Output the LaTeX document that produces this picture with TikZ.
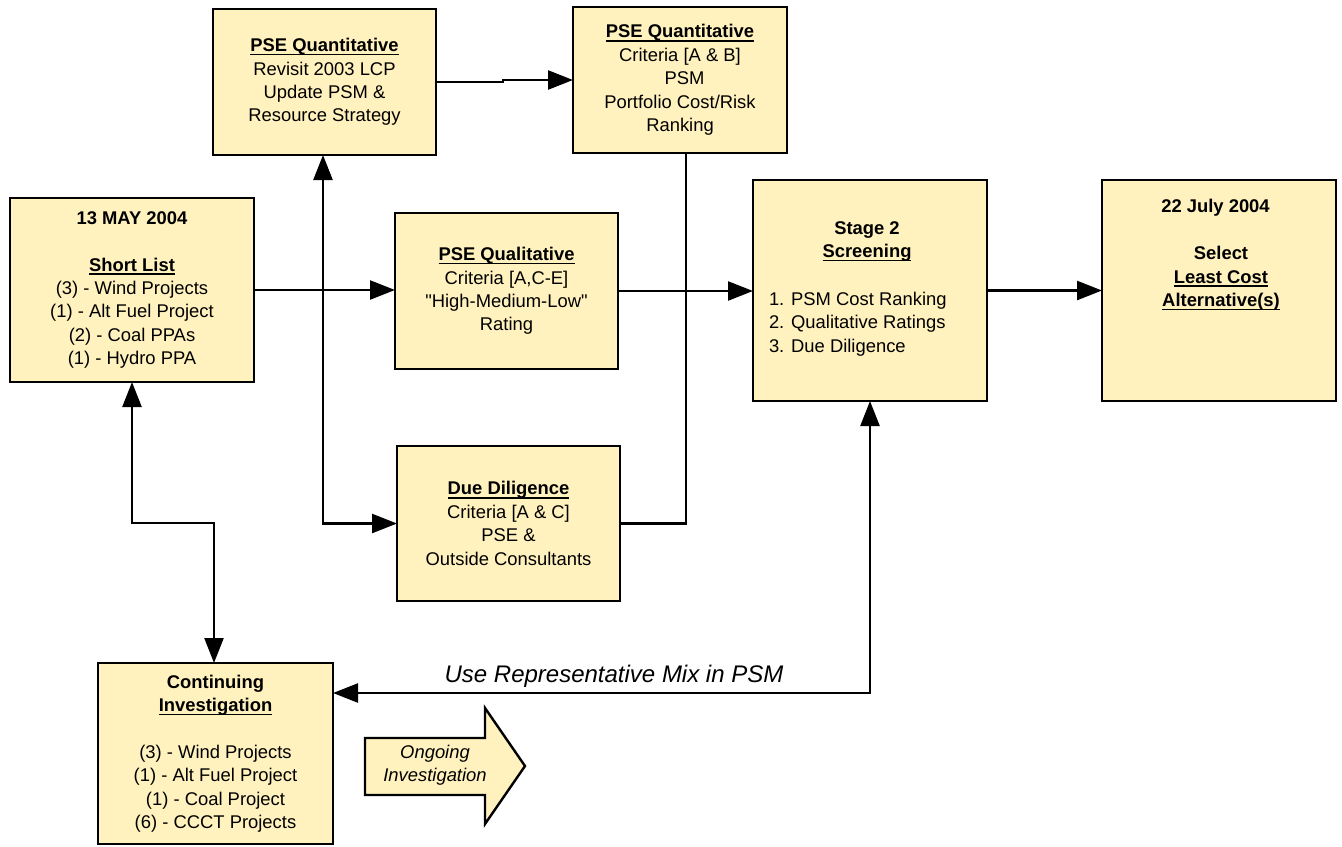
\documentclass[tikz,border=0pt]{standalone}
\usepackage{fontspec}
\setmainfont{Liberation Sans}
\newfontfamily\qfont{Liberation Sans}
\usetikzlibrary{arrows.meta}
\definecolor{boxfill}{RGB}{255,242,190}
\newcommand{\ulx}[1]{\leavevmode\setbox0\hbox{#1}\rlap{\copy0}\rule[-1.9pt]{\wd0}{0.85pt}}
\newcommand{\sq}{{\qfont"}}
\begin{document}
\begin{tikzpicture}[x=0.5pt,y=-0.5pt,
  every node/.style={font=\fontsize{9.2pt}{11.7pt}\selectfont, inner sep=0pt, outer sep=0pt},
  flowbox/.style={draw=black, line width=1.4pt, fill=boxfill, align=center},
  conn/.style={line width=1.2pt, -{Triangle[length=12.5pt,width=9.5pt]}},
  conn2/.style={line width=1.2pt, {Triangle[length=12.5pt,width=9.5pt]}-{Triangle[length=12.5pt,width=9.5pt]}},
  plainline/.style={line width=1.2pt},
  itlabel/.style={font=\fontsize{9.2pt}{11.5pt}\selectfont\itshape, align=center},
  biglabel/.style={font=\fontsize{12pt}{14pt}\selectfont\itshape}]
\useasboundingbox (0,0) rectangle (1342,846);

% boxes
\node[flowbox, minimum width=122pt, minimum height=92pt] (A) at (132,290)
  {\textbf{13 MAY 2004}\\[11.7pt]\textbf{\ulx{Short List}}\\(3) - Wind Projects\\(1) - Alt Fuel Project\\(2) - Coal PPAs\\(1) - Hydro PPA};
\node[flowbox, minimum width=111.5pt, minimum height=73pt] (B) at (324.5,82)
  {\textbf{\ulx{PSE Quantitative}}\\Revisit 2003 LCP\\Update PSM \&\\Resource Strategy};
\node[flowbox, minimum width=107pt, minimum height=73pt] (C) at (680,80)
  {\textbf{\ulx{PSE Quantitative}}\\Criteria [A \& B]\\\hspace*{0.5em}PSM\\Portfolio Cost/Risk\\Ranking};
\node[flowbox, minimum width=111.5pt, minimum height=78pt] (D) at (506.5,291)
  {\textbf{\ulx{PSE Qualitative}}\\Criteria [A,C-E]\\\sq High-Medium-Low\sq\\Rating};
\node[flowbox, minimum width=111.5pt, minimum height=77.5pt] (E) at (508.5,523.5)
  {\textbf{\ulx{Due Diligence}}\\Criteria [A \& C]\\PSE \&\\Outside Consultants};
\node[flowbox, minimum width=117pt, minimum height=110.5pt] (F) at (870,290.5) {};
\node[flowbox, minimum width=117pt, minimum height=110.5pt] (G) at (1219,290.5) {};
\node[flowbox, minimum width=117.5pt, minimum height=90.5pt] (H) at (215.5,753.5)
  {\textbf{Continuing}\\\textbf{\ulx{Investigation}}\\[11.7pt](3) - Wind Projects\\(1) - Alt Fuel Project\\(1) - Coal Project\\(6) - CCCT Projects};

% texts inside F and G
\node[align=center] (Fhead) at (867,241.5) {\textbf{Stage 2}\\\textbf{\ulx{Screening}}};
\node[align=left, anchor=west] (Flist) at (769,324) {1. PSM Cost Ranking\\2. Qualitative Ratings\\3. Due Diligence};
\node[align=center] (Gtext) at (1221,255)
  {\textbf{22 July 2004}\hspace*{0.6em}\\[11.7pt]\textbf{Select}\\\textbf{\ulx{Least Cost}}\\\textbf{\ulx{Alternative(s)}}};

% block arrow
\draw[line width=1.2pt, fill=boxfill, line join=miter]
  (365,738) -- (485,738) -- (485,708) -- (525,766) -- (485,824) -- (485,795) -- (365,795) -- cycle;
\node[itlabel] (ongoing) at (435,765) {Ongoing\\Investigation};

% connectors
\draw[conn] (A.east) -- (A.east -| D.west);
\coordinate (j1) at (323,290);
\draw[conn] (j1) -- (j1 |- B.south);
\draw[conn] (j1) |- (E.west);
\coordinate (jog) at (503,80);
\draw[conn] (B.east) -| (jog) -- (C.west);
\draw[plainline] ([xshift=3pt]C.south) |- (E.east);
\draw[conn] (D.east) -- (D.east -| F.west);
\draw[conn] (F.east) -- (F.east -| G.west);
\coordinate (j2) at (132,523);
\draw[conn2] (A.south) -- (j2) -| ([xshift=-0.75pt]H.north);
\coordinate (j3) at (870,693);
\draw[conn2] (H.east |- j3) -- (j3) -- (F.south);
\node[biglabel] (mixlabel) at (614,676) {Use Representative Mix in PSM};
\end{tikzpicture}
\end{document}
